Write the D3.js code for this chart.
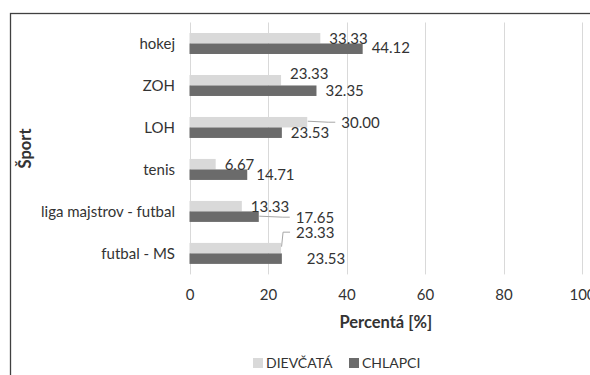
<!DOCTYPE html>
<html>
<head>
<meta charset="utf-8">
<script src="https://cdn.jsdelivr.net/npm/d3@7"></script>
<style>
  html, body { margin: 0; padding: 0; background: #fff; }
  svg { display: block; }
  text { font-family: Lato, "Open Sans", sans-serif; fill: #333; }
</style>
</head>
<body>
<svg id="chart" width="590" height="375"></svg>
<script>
// Sports followed, share of respondents by gender
const categories = ["hokej", "ZOH", "LOH", "tenis", "liga majstrov - futbal", "futbal - MS"];
const seriesNames = ["DIEVČATÁ", "CHLAPCI"];
const dievcata = [33.33, 23.33, 30.00, 6.67, 13.33, 23.33];
const chlapci = [44.12, 32.35, 23.53, 14.71, 17.65, 23.53];
const xTicks = [0, 20, 40, 60, 80, 100];
const xTitle = "Percentá [%]";
const yTitle = "Šport";

const seriesValues = [dievcata, chlapci];
const colors = ["#d9d9d9", "#6b6b6b"];

// Hand-placed data labels (pixel nudges from the default spot) and which ones get a leader line
const labelNudge = {
  "DIEVČATÁ|LOH": { dx: 25, dy: 0, leader: true },
  "DIEVČATÁ|ZOH": { dx: 0, dy: -7 },
  "DIEVČATÁ|futbal - MS": { dx: 6, dy: -16, leader: true },
  "CHLAPCI|liga majstrov - futbal": { dx: 28, dy: 0.5, leader: true },
  "CHLAPCI|futbal - MS": { dx: 16, dy: 0 },
  "CHLAPCI|hokej": { dx: 0, dy: -1 }
};

const svg = d3.select("#chart");

// Chart frame (runs past the right and bottom edges)
svg.append("rect")
  .attr("x", 10.5).attr("y", 13.5)
  .attr("width", 700).attr("height", 500)
  .attr("fill", "none").attr("stroke", "#404040").attr("stroke-width", 1.3);

const x = d3.scaleLinear().domain([0, 100]).range([189.5, 582]);
const y = d3.scaleBand().domain(categories).range([22.5, 274.4])
  .paddingInner(0.5).paddingOuter(0.25);
const ySub = d3.scaleBand().domain(seriesNames).range([0, y.bandwidth()]);

// Vertical gridlines
svg.append("g").selectAll("line").data(xTicks).join("line")
  .attr("x1", d => Math.round(x(d)) + 0.5).attr("x2", d => Math.round(x(d)) + 0.5)
  .attr("y1", 22.5).attr("y2", 274.4)
  .attr("stroke", "#d9d9d9").attr("stroke-width", 1);

// Bars
const rows = [];
seriesNames.forEach((s, si) => {
  categories.forEach((c, ci) => {
    rows.push({ series: s, si, cat: c, value: seriesValues[si][ci] });
  });
});

svg.append("g").selectAll("rect").data(rows).join("rect")
  .attr("x", x(0))
  .attr("y", d => y(d.cat) + ySub(d.series))
  .attr("width", d => x(d.value) - x(0))
  .attr("height", ySub.bandwidth())
  .attr("fill", d => colors[d.si]);

// Data labels and leader lines
const fmt = d3.format(".2f");
const labels = svg.append("g");
rows.forEach(d => {
  const n = labelNudge[d.series + "|" + d.cat] || { dx: 0, dy: 0 };
  const barEnd = x(d.value);
  const barCy = y(d.cat) + ySub(d.series) + ySub.bandwidth() / 2;
  const lx = barEnd + 9 + n.dx;
  const ly = barCy + n.dy;
  if (n.leader) {
    const sy = Math.abs(n.dy) < 4 ? ly - 1 : barCy - 1.5;
    labels.append("polyline")
      .attr("points", [[barEnd + 0.5, sy], [lx - 13, ly], [lx - 6, ly]].map(p => p.join(",")).join(" "))
      .attr("fill", "none").attr("stroke", "#a6a6a6").attr("stroke-width", 1);
  }
  labels.append("text")
    .attr("x", lx).attr("y", ly)
    .attr("dy", "0.36em")
    .attr("font-size", 15)
    .attr("fill", "#262626")
    .text(fmt(d.value));
});

// Category axis labels
svg.append("g").selectAll("text").data(categories).join("text")
  .attr("x", 175).attr("y", d => y(d) + y.bandwidth() / 2)
  .attr("dy", "0.36em")
  .attr("text-anchor", "end")
  .attr("font-size", 15)
  .text(d => d);

// Value axis
const xAxis = svg.append("g")
  .attr("transform", "translate(0,289)")
  .call(d3.axisBottom(x).tickValues(xTicks).tickSize(0).tickPadding(0).tickFormat(d3.format("d")));
xAxis.select(".domain").remove();
xAxis.selectAll("text")
  .attr("font-family", "Lato, 'Open Sans', sans-serif")
  .attr("font-size", 15).attr("fill", "#333")
  .attr("dy", "0.71em");

// Axis titles
svg.append("text")
  .attr("x", (x(0) + x(100)) / 2).attr("y", 322)
  .attr("dy", "0.36em")
  .attr("text-anchor", "middle")
  .attr("font-size", 16.5).attr("font-weight", "bold")
  .text(xTitle);

svg.append("text")
  .attr("transform", `translate(25,${(22.5 + 274.4) / 2}) rotate(-90)`)
  .attr("dy", "0.36em")
  .attr("text-anchor", "middle")
  .attr("font-size", 16.5).attr("font-weight", "bold")
  .text(yTitle);

// Legend
const legend = svg.append("g").attr("transform", "translate(0,363)");
const legendX = [253, 349];
seriesNames.forEach((s, i) => {
  legend.append("rect")
    .attr("x", legendX[i]).attr("y", -5)
    .attr("width", 10).attr("height", 10)
    .attr("fill", colors[i]);
  legend.append("text")
    .attr("x", legendX[i] + 13).attr("y", 0)
    .attr("dy", "0.36em")
    .attr("font-size", 14)
    .text(s);
});
</script>
</body>
</html>
